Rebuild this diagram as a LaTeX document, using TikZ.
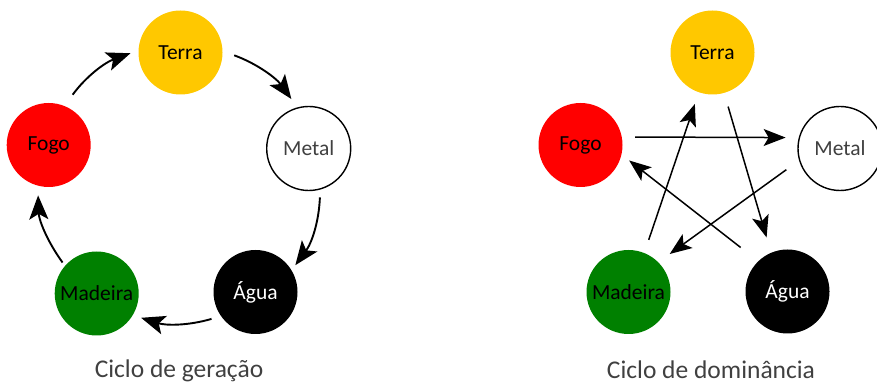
\documentclass[tikz,border=0pt]{standalone}
\usepackage{fontspec}
\setmainfont{Carlito}
\usetikzlibrary{arrows.meta}
\definecolor{terracol}{RGB}{255,200,0}
\definecolor{fogocol}{RGB}{255,0,0}
\definecolor{madeiracol}{RGB}{0,128,0}
\definecolor{txtgray}{RGB}{64,64,64}
\begin{document}
\begin{tikzpicture}[x=1pt,y=1pt,
  elem/.style={circle, minimum size=84pt, inner sep=0pt, outer sep=0pt,
    font=\fontsize{21.5}{25}\selectfont},
  terrast/.style={elem, fill=terracol, text=black},
  metalst/.style={elem, draw=black, line width=1.4pt, fill=white, text=txtgray},
  aguast/.style={elem, fill=black, text=white},
  madeirast/.style={elem, fill=madeiracol, text=black},
  fogost/.style={elem, fill=fogocol, text=black},
  gen/.style={line width=1.9pt, -{Stealth[length=24pt,width=19pt,inset=5.5pt]}},
  dom/.style={line width=1.5pt, -{Stealth[length=22pt,width=17pt,inset=5pt]}},
  caption/.style={anchor=base, text=txtgray, font=\fontsize{25.5}{30}\selectfont}]
\useasboundingbox (0,0) rectangle (877,385);

% Ciclo de geração
\node[terrast]   (t1) at (180.5,332.5) {Terra};
\node[metalst]   (m1) at (308.7,236.5) {Metal};
\node[aguast]    (a1) at (255.5,93)    {Água};
\node[madeirast] (w1) at (96.7,91.5)   {Madeira};
\node[fogost]    (f1) at (48.7,240)    {Fogo};

\draw[gen, shorten <=14pt, shorten >=8.6pt]  (f1.68)   to[bend left=17] (t1.177);
\draw[gen, shorten <=12.5pt, shorten >=11pt] (t1.2)    to[bend left=17] (m1.105);
\draw[gen, shorten <=8.6pt, shorten >=6.4pt] (m1.-74)  to[bend left=17] (a1.31);
\draw[gen, shorten <=10pt, shorten >=8.8pt]  (a1.215)  to[bend left=17] (w1.-31);
\draw[gen, shorten <=4.2pt, shorten >=9.8pt] (w1.139)  to[bend left=17] (f1.255);

\node[caption] (c1) at (179,7) {Ciclo de geração};

% Ciclo de dominância
\node[terrast]   (t2) at (712.5,332.5) {Terra};
\node[metalst]   (m2) at (840,236.5)   {Metal};
\node[aguast]    (a2) at (787.5,93.5)  {Água};
\node[madeirast] (w2) at (628.5,93)    {Madeira};
\node[fogost]    (f2) at (580.5,240)   {Fogo};

\draw[dom, shorten <=13.5pt, shorten >=13.8pt] (f2.11)   -- (m2.165);
\draw[dom, shorten <=14.3pt, shorten >=16pt]   (t2.-74)  -- (a2.113);
\draw[dom, shorten <=16.4pt, shorten >=14.2pt] (m2.196)  -- (w2.45);
\draw[dom, shorten <=22.4pt, shorten >=9.8pt]  (a2.134)  -- (f2.-13);
\draw[dom, shorten <=13.9pt, shorten >=12.4pt] (w2.68)   -- (t2.-109);

\node[caption] (c2) at (711,6) {Ciclo de dominância};
\end{tikzpicture}
\end{document}
